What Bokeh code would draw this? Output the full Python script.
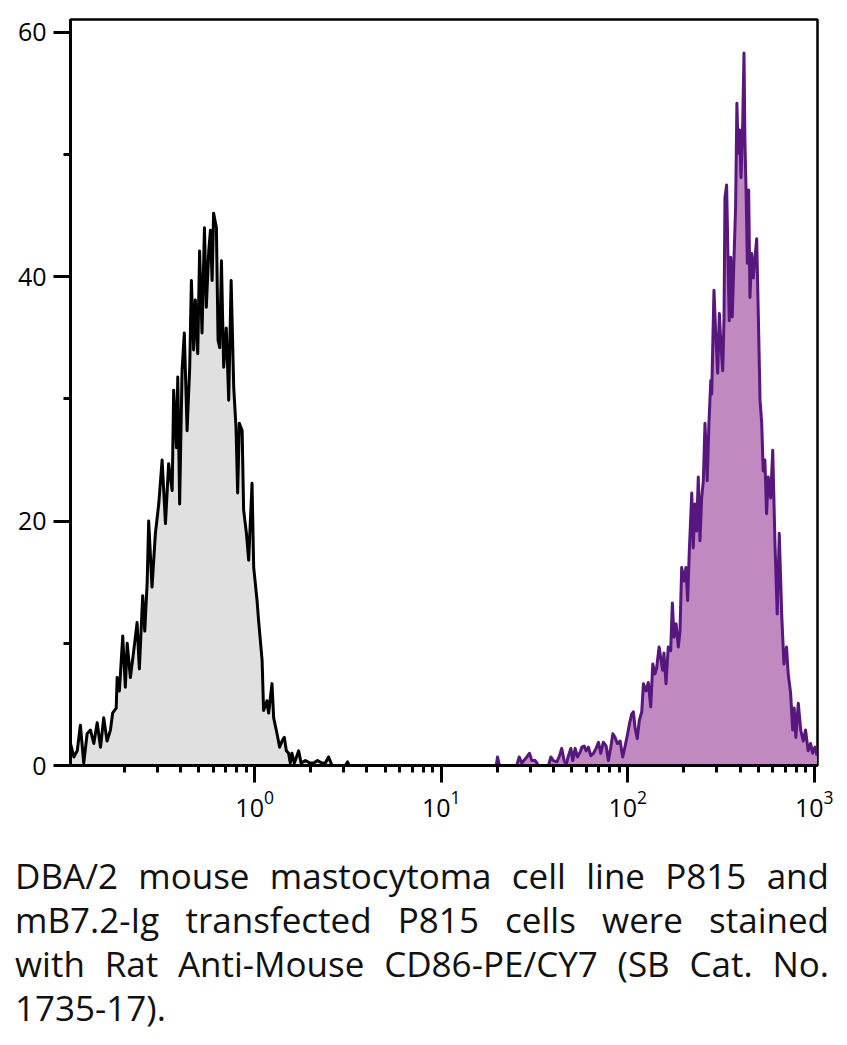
from bokeh.plotting import figure
from bokeh.models import Range1d, SingleIntervalTicker, LogTicker, Div
from bokeh.layouts import column
from bokeh.embed import file_html
from bokeh.resources import INLINE

# Unstained / control (grey) histogram: log10 of intensity and cell count
gray_log = [-0.987, -0.969, -0.951, -0.934, -0.916, -0.898, -0.880, -0.862, -0.844, -0.826,
            -0.809, -0.791, -0.773, -0.761, -0.742, -0.737, -0.725, -0.707, -0.693, -0.683,
            -0.666, -0.648, -0.630, -0.618, -0.600, -0.589, -0.576, -0.568, -0.550, -0.532,
            -0.514, -0.496, -0.478, -0.461, -0.442, -0.434, -0.419, -0.412, -0.402, -0.389,
            -0.377, -0.362, -0.348, -0.339, -0.327, -0.318, -0.305, -0.295, -0.282, -0.269,
            -0.259, -0.246, -0.237, -0.228, -0.220, -0.205, -0.196, -0.187, -0.178, -0.166,
            -0.152, -0.139, -0.126, -0.112, -0.100, -0.091, -0.082, -0.067, -0.059, -0.044,
            -0.032, -0.014, -0.005, 0.013, 0.021, 0.040, 0.048, 0.066, 0.075, 0.093,
            0.102, 0.120, 0.134, 0.147, 0.159, 0.170, 0.182, 0.191, 0.200, 0.213,
            0.236, 0.249, 0.272, 0.298, 0.316, 0.337, 0.361, 0.379, 0.396, 0.415,
            0.486, 0.498, 0.507]
gray_count = [1.8, 0.7, 1.2, 3.3, 0.2, 2.6, 2.9, 1.8, 3.5, 1.5,
              3.9, 2.0, 2.9, 4.3, 4.7, 7.2, 6.1, 10.6, 6.4, 10.0,
              7.2, 9.4, 11.7, 7.9, 13.9, 11.0, 15.0, 20.0, 14.6, 19.0,
              21.4, 25.0, 19.8, 24.7, 22.5, 30.7, 26.0, 31.8, 21.4, 32.3,
              35.4, 27.4, 32.6, 39.7, 34.0, 38.1, 33.7, 42.1, 35.4, 44.0,
              37.5, 42.1, 43.8, 39.7, 45.2, 44.0, 34.8, 34.2, 41.3, 32.6,
              35.8, 29.9, 39.7, 30.9, 27.7, 22.3, 28.0, 27.4, 20.9, 19.0,
              16.8, 23.1, 16.2, 13.5, 11.9, 8.6, 4.5, 5.3, 4.3, 6.7,
              3.9, 2.6, 1.5, 2.0, 2.3, 1.2, 1.0, 0.2, 1.0, 0.2,
              1.2, 0.2, 0.4, 0.2, 0.2, 0.4, 0.2, 0.2, 0.7, 0.0,
              0.0, 0.3, 0.0]

# mB7.2-Ig transfected (purple) histogram
purple_log = [1.295, 1.302, 1.312, 1.405, 1.418, 1.432, 1.459, 1.473, 1.486, 1.504,
              1.521, 1.575, 1.588, 1.601, 1.620, 1.634, 1.646, 1.659, 1.670, 1.682,
              1.695, 1.705, 1.718, 1.730, 1.745, 1.754, 1.766, 1.777, 1.789, 1.802,
              1.816, 1.830, 1.843, 1.855, 1.869, 1.884, 1.896, 1.909, 1.920, 1.932,
              1.944, 1.959, 1.973, 1.986, 1.998, 2.009, 2.021, 2.030, 2.039, 2.051,
              2.062, 2.075, 2.084, 2.098, 2.110, 2.123, 2.134, 2.146, 2.155, 2.168,
              2.187, 2.194, 2.205, 2.217, 2.230, 2.239, 2.248, 2.259, 2.271,
              2.280, 2.289, 2.302, 2.312, 2.321, 2.330, 2.343, 2.351, 2.360, 2.369,
              2.378, 2.387, 2.396, 2.405, 2.414, 2.426, 2.435, 2.445, 2.450, 2.462,
              2.473, 2.482, 2.491, 2.498, 2.509, 2.516, 2.521, 2.530, 2.537, 2.544,
              2.552, 2.560, 2.569, 2.578, 2.585, 2.592, 2.600, 2.607, 2.616, 2.623,
              2.628, 2.634, 2.641, 2.648, 2.655, 2.664, 2.673, 2.682, 2.691, 2.700,
              2.709, 2.718, 2.726, 2.735, 2.744, 2.753, 2.766, 2.777, 2.789, 2.801,
              2.812, 2.825, 2.837, 2.851, 2.860, 2.873, 2.884, 2.892, 2.901, 2.914,
              2.927, 2.941, 2.953, 2.967, 2.980, 2.991, 3.003, 3.015]
purple_count = [0.0, 0.7, 0.0, 0.0, 0.7, 0.2, 0.7, 1.0, 0.4, 0.4,
                0.0, 0.0, 0.7, 0.4, 0.3, 0.8, 1.4, 0.4, 0.1, 0.8,
                1.4, 0.4, 1.4, 0.7, 1.1, 1.5, 1.6, 1.2, 1.5, 0.8,
                1.0, 1.4, 1.9, 1.0, 1.9, 1.6, 0.4, 1.5, 2.6, 2.3,
                1.8, 2.0, 0.7, 1.6, 2.5, 3.4, 4.2, 4.4, 3.1, 2.2,
                3.7, 4.4, 6.7, 6.1, 6.8, 4.8, 8.3, 7.5, 8.0, 9.7,
                7.8, 9.2, 6.7, 9.7, 9.4, 13.3, 10.5, 11.6, 9.7,
                11.0, 16.2, 15.1, 16.2, 13.5, 17.6, 22.3, 17.8, 21.4, 19.2,
                23.6, 18.4, 21.9, 23.3, 28.0, 23.3, 28.0, 31.5, 30.4, 38.9,
                34.8, 32.1, 37.0, 34.8, 32.3, 36.7, 46.5, 47.5, 41.6, 36.4,
                41.6, 36.7, 41.3, 45.7, 54.2, 50.1, 52.0, 48.1, 52.5, 58.3,
                51.1, 47.1, 41.1, 47.1, 38.3, 41.9, 39.9, 41.6, 43.1, 36.7,
                29.9, 28.0, 24.1, 25.0, 20.6, 23.6, 21.9, 25.8, 18.2, 12.4,
                19.0, 12.4, 8.3, 9.7, 7.5, 5.9, 2.9, 4.7, 2.3, 5.1,
                2.9, 2.0, 2.9, 1.2, 1.8, 1.0, 1.5, 0.8]

y_ticks = [0, 20, 40, 60]
caption_lines = ["DBA/2 mouse mastocytoma cell line P815 and",
                 "mB7.2-Ig transfected P815 cells were stained",
                 "with Rat Anti-Mouse CD86-PE/CY7 (SB Cat. No.",
                 "1735-17)."]

gray_x = [10 ** v for v in gray_log]
purple_x = [10 ** v for v in purple_log]

FONT = "Open Sans"

p = figure(x_axis_type="log",
           x_range=Range1d(10 ** -0.987, 10 ** 3.017),
           y_range=Range1d(0, 61.05),
           frame_width=747, frame_height=746,
           min_border_left=70, min_border_right=18,
           min_border_top=19, min_border_bottom=70,
           output_backend="svg", toolbar_location=None,
           background_fill_color="white", border_fill_color="white")

p.xgrid.visible = False
p.ygrid.visible = False
p.outline_line_color = "black"
p.outline_line_width = 2.5
p.outline_line_alpha = 1

# fills
p.varea(x=gray_x, y1=0, y2=gray_count, fill_color="#e0e0e0")
p.varea(x=purple_x, y1=0, y2=purple_count, fill_color="#c08ac1")
# outlines
p.line(gray_x, gray_count, line_color="black", line_width=3, line_join="round")
p.line(purple_x, purple_count, line_color="#58167f", line_width=3, line_join="round")

p.yaxis.ticker = SingleIntervalTicker(interval=20, num_minor_ticks=2)
p.xaxis.ticker = LogTicker(num_minor_ticks=10)

for ax in (p.xaxis[0], p.yaxis[0]):
    ax.axis_line_width = 3
    ax.axis_line_color = "black"
    ax.major_tick_line_width = 3
    ax.major_tick_line_color = "black"
    ax.minor_tick_line_width = 3
    ax.minor_tick_line_color = "black"
    ax.major_tick_in = 0
    ax.major_tick_out = 17
    ax.minor_tick_in = 0
    ax.minor_tick_out = 7
    ax.major_label_text_font = FONT
    ax.major_label_text_font_size = "25px"
    ax.major_label_text_color = "black"
    ax.major_label_standoff = 7

p.yaxis.major_label_overrides = {t: str(t) for t in y_ticks}

caption_html = ["<div style='width:814px;margin-left:10px;padding-top:14px;"
                "font-family:\"Open Sans\";font-size:35px;line-height:44px;color:#111;'>"]
for i, line in enumerate(caption_lines):
    if i < len(caption_lines) - 1:
        caption_html.append("<div style='white-space:nowrap;text-align:justify;text-align-last:justify;'>%s</div>" % line)
    else:
        caption_html.append("<div style='text-align:left;'>%s</div>" % line)
caption_html.append("</div>")
caption = Div(text="".join(caption_html), width=835)

layout = column(p, caption)
open("out.html", "w").write(file_html(layout, INLINE))
